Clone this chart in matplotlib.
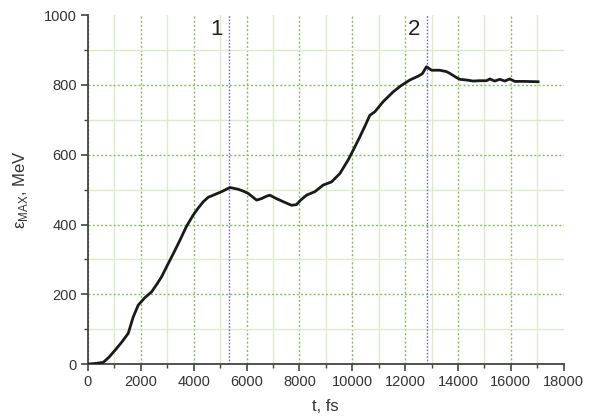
import matplotlib
matplotlib.use("Agg")
import matplotlib.pyplot as plt
from matplotlib.ticker import MultipleLocator

plt.rcParams['font.family'] = ['Liberation Sans', 'DejaVu Sans']
plt.rcParams['mathtext.fontset'] = 'custom'
plt.rcParams['mathtext.rm'] = 'Liberation Sans'

t_fs = [0, 300, 580, 800, 1085, 1300, 1525, 1714, 1903, 2150, 2408, 2600, 2786, 3038,
        3227, 3450, 3731, 3984, 4150, 4362, 4550, 4740, 5056, 5371, 5686, 5900, 6064,
        6380, 6560, 6758, 6884, 7136, 7400, 7703, 7892, 8050, 8270, 8585, 8900, 9216,
        9531, 9846, 10050, 10287, 10500, 10666, 10855, 11170, 11548, 11850, 12179,
        12494, 12650, 12810, 13000, 13313, 13565, 13691, 13943, 14070, 14321, 14574,
        14826, 15078, 15204, 15393, 15582, 15771, 15960, 16149, 16500, 17031]
e_max = [0, 2, 5, 20, 45, 65, 88, 135, 169, 190, 207, 228, 250, 288,
         316, 350, 395, 427, 445, 465, 478, 484, 494, 506, 501, 495, 489,
         470, 474, 481, 484, 474, 465, 455, 457, 470, 484, 494, 513, 522,
         546, 585, 615, 651, 685, 713, 723, 752, 780, 798, 814,
         825, 832, 852, 842, 842, 838, 833, 821, 816, 814, 811,
         812, 812, 817, 811, 816, 811, 817, 810, 810, 809]

marker_t = [5350, 12820]
marker_labels = ['1', '2']

fig = plt.figure(figsize=(5.94, 4.19), dpi=100)
ax = fig.add_axes([0.148, 0.131, 0.801, 0.833])

ax.set_xlim(0, 18000)
ax.set_ylim(0, 1000)
ax.xaxis.set_major_locator(MultipleLocator(2000))
ax.xaxis.set_minor_locator(MultipleLocator(1000))
ax.yaxis.set_major_locator(MultipleLocator(200))
ax.yaxis.set_minor_locator(MultipleLocator(100))

ax.grid(which='minor', color='#dcecca', linestyle='-', linewidth=1.0)
ax.grid(which='major', color='#82c05c', linestyle=(0, (1.5, 1.5)), linewidth=1.0)
ax.set_axisbelow(True)

for s in ['top', 'right']:
    ax.spines[s].set_visible(False)
for s in ['left', 'bottom']:
    ax.spines[s].set_color('#444444')
    ax.spines[s].set_linewidth(1.3)

for tm, lab in zip(marker_t, marker_labels):
    ax.axvline(tm, color='#6a6ad0', linestyle=(0, (1.2, 1.2)), linewidth=1.0, zorder=2)
    ax.text(tm - 230, 990, lab, ha='right', va='top', fontsize=16, color='#222222')

ax.plot(t_fs, e_max, color='#1a1a1a', linewidth=2.0, zorder=3)

ax.tick_params(which='major', direction='out', length=5, width=1.2, color='#444444',
               labelsize=10.5, labelcolor='#333333', pad=3)
ax.tick_params(which='minor', direction='out', length=3, width=1.0, color='#444444')

fig.canvas.draw()
for tk in ax.yaxis.get_major_ticks():
    if abs(tk.get_loc() - 1000) < 1:
        tk.gridline.set_visible(False)
for tk in ax.xaxis.get_major_ticks():
    if abs(tk.get_loc() - 18000) < 1:
        tk.gridline.set_visible(False)

ax.set_xlabel('t, fs', fontsize=12, color='#333333', labelpad=7)
ax.set_ylabel(r'ε$_{\mathregular{MAX}}$, MeV', fontsize=12, color='#333333', labelpad=10)

fig.savefig('out.png', dpi=100)
